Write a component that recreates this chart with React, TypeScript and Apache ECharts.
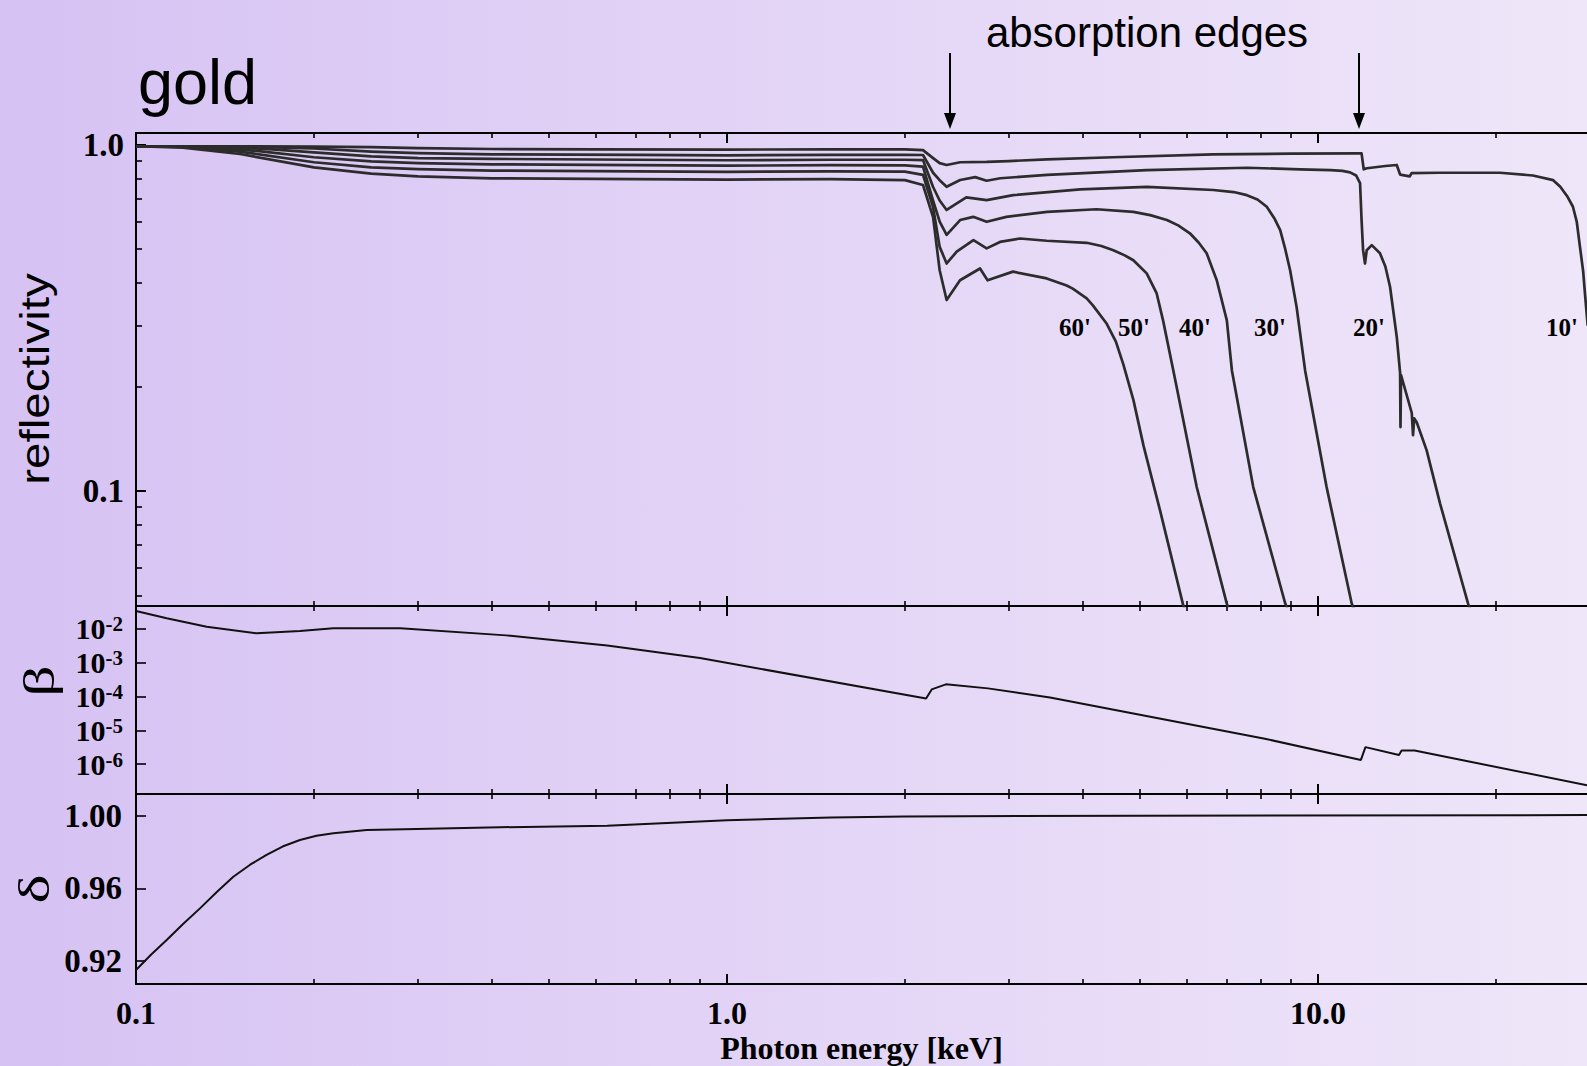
import React, { useEffect, useRef } from "react";
import * as echarts from "echarts";

// ---------- axes ----------
const X_MIN = 0.1;
const X_MAX = 28.52;
const xMajorTicks = [0.1, 1, 10];
const xTickLabels = ["0.1", "1.0", "10.0"];
const xMinorTicks = [0.2, 0.3, 0.4, 0.5, 0.6, 0.7, 0.8, 0.9, 2, 3, 4, 5, 6, 7, 8, 9, 20];

const R_MIN = 0.04656;
const R_MAX = 1.081;
const reflMajorTicks = [0.1, 1];
const reflTickLabels = ["0.1", "1.0"];
const reflMinorTicks = [0.05, 0.06, 0.07, 0.08, 0.09, 0.2, 0.3, 0.4, 0.5, 0.6, 0.7, 0.8, 0.9];

const B_MIN = 1.294e-7;
const B_MAX = 0.0479;
const betaTicks = [1e-6, 1e-5, 1e-4, 1e-3, 1e-2];

const D_MIN = 0.9074;
const D_MAX = 1.0119;
const deltaTicks = [0.92, 0.96, 1.0];
const deltaTickLabels = ["0.92", "0.96", "1.00"];

// ---------- reflectivity curves (energy keV, reflectivity) ----------
const angleNames = ["10'", "20'", "30'", "40'", "50'", "60'"];

const energy10 = [0.1, 0.15, 0.2, 0.25, 0.3, 0.4, 0.6, 1.0, 1.5, 2.0, 2.146, 2.232, 2.29, 2.353, 2.48, 2.75, 3.0, 3.48, 4.5, 6.64, 9.0, 11.78, 11.85, 11.95, 12.1, 13.0, 13.59, 13.77, 14.3, 14.4, 16.0, 20.3, 23.1, 25.0, 25.7, 26.4, 27.0, 27.4, 27.75, 28.1, 28.3, 28.6];
const refl10 = [0.99, 0.99, 0.988, 0.984, 0.978, 0.972, 0.97, 0.968, 0.97, 0.97, 0.965, 0.915, 0.885, 0.874, 0.89, 0.892, 0.897, 0.907, 0.92, 0.938, 0.942, 0.944, 0.944, 0.849, 0.855, 0.868, 0.874, 0.82, 0.81, 0.828, 0.83, 0.83, 0.815, 0.79, 0.756, 0.71, 0.662, 0.6, 0.507, 0.43, 0.37, 0.3];

const energy20 = [0.1, 0.15, 0.2, 0.25, 0.3, 0.4, 0.7, 1.0, 1.5, 2.0, 2.146, 2.232, 2.29, 2.353, 2.48, 2.63, 2.75, 2.9, 3.48, 5.13, 7.58, 9.32, 10.5, 11.0, 11.33, 11.6, 11.78, 11.85, 11.92, 12.01, 12.09, 12.33, 12.73, 13.0, 13.24, 13.59, 13.77, 13.79, 13.82, 14.41, 14.48, 14.55, 14.69, 15.27, 16.09, 17.94, 18.2];
const refl20 = [0.99, 0.988, 0.975, 0.955, 0.945, 0.938, 0.935, 0.932, 0.935, 0.935, 0.934, 0.83, 0.79, 0.756, 0.791, 0.806, 0.787, 0.8, 0.818, 0.845, 0.858, 0.849, 0.845, 0.84, 0.832, 0.815, 0.775, 0.606, 0.496, 0.454, 0.496, 0.513, 0.486, 0.445, 0.389, 0.279, 0.219, 0.153, 0.216, 0.168, 0.145, 0.162, 0.158, 0.131, 0.092, 0.0474, 0.044];

const energy30 = [0.1, 0.14, 0.17, 0.2, 0.25, 0.3, 0.4, 0.7, 1.0, 1.5, 2.0, 2.146, 2.232, 2.29, 2.353, 2.54, 2.75, 3.05, 3.96, 5.13, 6.65, 7.2, 7.58, 7.9, 8.19, 8.45, 8.63, 8.8, 8.97, 9.2, 9.51, 10.34, 11.4, 11.6];
const refl30 = [0.99, 0.985, 0.97, 0.95, 0.925, 0.915, 0.91, 0.905, 0.902, 0.905, 0.905, 0.903, 0.755, 0.69, 0.648, 0.705, 0.692, 0.715, 0.743, 0.756, 0.74, 0.73, 0.715, 0.695, 0.662, 0.61, 0.567, 0.5, 0.434, 0.34, 0.223, 0.1027, 0.0474, 0.044];

const energy40 = [0.1, 0.13, 0.16, 0.2, 0.25, 0.3, 0.4, 0.7, 1.0, 1.5, 2.0, 2.146, 2.232, 2.29, 2.353, 2.48, 2.61, 2.75, 2.97, 3.48, 4.22, 4.87, 5.2, 5.55, 5.8, 6.07, 6.28, 6.48, 6.74, 7.01, 7.15, 7.77, 8.8, 8.95];
const refl40 = [0.99, 0.985, 0.96, 0.92, 0.895, 0.885, 0.878, 0.873, 0.87, 0.873, 0.872, 0.864, 0.69, 0.6, 0.549, 0.606, 0.619, 0.599, 0.619, 0.64, 0.651, 0.64, 0.626, 0.606, 0.585, 0.555, 0.522, 0.486, 0.406, 0.311, 0.223, 0.1027, 0.0474, 0.044];

const energy50 = [0.1, 0.12, 0.15, 0.2, 0.25, 0.3, 0.4, 0.7, 1.0, 1.5, 2.0, 2.146, 2.232, 2.29, 2.353, 2.447, 2.612, 2.75, 2.897, 3.132, 3.475, 4.061, 4.3, 4.505, 4.7, 4.87, 5.13, 5.334, 5.47, 5.691, 6.234, 7.007, 7.1];
const refl50 = [0.99, 0.985, 0.955, 0.89, 0.86, 0.85, 0.842, 0.838, 0.835, 0.838, 0.836, 0.818, 0.66, 0.507, 0.454, 0.491, 0.53, 0.502, 0.524, 0.536, 0.528, 0.521, 0.51, 0.496, 0.48, 0.464, 0.425, 0.372, 0.31, 0.223, 0.1027, 0.0474, 0.044];

const energy60 = [0.1, 0.12, 0.15, 0.2, 0.25, 0.3, 0.4, 0.7, 1.0, 1.5, 2.0, 2.146, 2.232, 2.29, 2.353, 2.479, 2.68, 2.76, 3.047, 3.475, 3.756, 3.846, 4.061, 4.163, 4.391, 4.55, 4.684, 4.872, 5.068, 5.404, 5.918, 6.0];
const refl60 = [0.99, 0.98, 0.94, 0.86, 0.825, 0.81, 0.8, 0.795, 0.793, 0.795, 0.79, 0.765, 0.618, 0.434, 0.356, 0.406, 0.439, 0.406, 0.43, 0.411, 0.392, 0.384, 0.36, 0.343, 0.304, 0.27, 0.232, 0.183, 0.135, 0.0879, 0.0466, 0.044];

// ---------- beta (imaginary part) ----------
const betaEnergy = [0.1, 0.1127, 0.1317, 0.16, 0.1894, 0.2158, 0.28, 0.423, 0.627, 0.9, 2.172, 2.22, 2.346, 2.764, 3.52, 8.13, 11.82, 12.03, 13.71, 13.85, 14.57, 28.52];
const betaValues = [0.0341, 0.0207, 0.0117, 0.00745, 0.00873, 0.0105, 0.0105, 0.00646, 0.00324, 0.00138, 8.7e-5, 1.62e-4, 2.29e-4, 1.74e-4, 9.3e-5, 5.6e-6, 1.32e-6, 3.16e-6, 1.86e-6, 2.51e-6, 2.51e-6, 2.34e-7];

// ---------- delta (real part) ----------
const deltaEnergy = [0.1, 0.106, 0.1127, 0.12, 0.1283, 0.137, 0.1461, 0.156, 0.1663, 0.177, 0.1894, 0.202, 0.2158, 0.2457, 0.2985, 0.413, 0.627, 1.0, 1.5, 2.0, 5.0, 28.52];
const deltaValues = [0.9151, 0.9235, 0.9316, 0.9403, 0.949, 0.958, 0.9664, 0.973, 0.9784, 0.983, 0.9866, 0.9889, 0.9903, 0.9921, 0.9927, 0.9936, 0.9945, 0.9975, 0.999, 0.9995, 1.0, 1.0003];

// ---------- annotations ----------
const titleText = "gold";
const edgeText = "absorption edges";
const yNameRefl = "reflectivity";
const yNameBeta = "β";
const yNameDelta = "δ";
const xName = "Photon energy [keV]";

const SERIF = '"Liberation Serif", "Times New Roman", serif';
const SANS = '"Liberation Sans", Arial, Helvetica, sans-serif';
const INK = "#000";
const CURVE = "#2c2c2c";

function zip(a: number[], b: number[]) {
  return a.map((v, i) => [v, b[i]]);
}

function idxOfLog(list: number[], v: number) {
  let best = 0;
  let bd = Infinity;
  list.forEach((t, i) => {
    const d = Math.abs(Math.log10(t) - Math.log10(v));
    if (d < bd) { bd = d; best = i; }
  });
  return best;
}

function xAxesFor(grid: number, withLabels: boolean) {
  const base: any = {
    type: "log", logBase: 10, gridIndex: grid, min: X_MIN, max: X_MAX,
    splitLine: { show: false }, axisPointer: { show: false },
  };
  const major = (position: string, labels: boolean): any => ({
    ...base,
    position,
    axisLine: { show: true, onZero: false, lineStyle: { color: INK, width: 2 } },
    axisTick: { show: true, inside: true, length: 10, customValues: xMajorTicks, lineStyle: { color: INK, width: 2 } },
    axisLabel: labels
      ? {
          show: true, customValues: xMajorTicks, margin: 13, showMinLabel: true, showMaxLabel: true,
          formatter: (v: number) => xTickLabels[idxOfLog(xMajorTicks, v)],
          fontFamily: SERIF, fontWeight: "bold", fontSize: 32, color: INK,
        }
      : { show: false },
    ...(labels
      ? {
          name: xName, nameLocation: "middle", nameGap: 48,
          nameTextStyle: { fontFamily: SERIF, fontWeight: "bold", fontSize: 32, color: INK },
        }
      : {}),
  });
  const minor = (position: string): any => ({
    ...base,
    position,
    axisLine: { show: false },
    axisTick: { show: true, inside: true, length: 5, customValues: xMinorTicks, lineStyle: { color: INK, width: 1.6 } },
    axisLabel: { show: false },
  });
  return [major("bottom", withLabels), minor("bottom"), major("top", false), minor("top")];
}

function buildOption(): any {
  const grids = [
    { left: 136, top: 133, width: 1451, height: 473 },
    { left: 136, top: 606, width: 1451, height: 188 },
    { left: 136, top: 794, width: 1451, height: 190 },
  ];
  const xAxis = [...xAxesFor(0, false), ...xAxesFor(1, false), ...xAxesFor(2, true)];
  const labelBase = { fontFamily: SERIF, fontWeight: "bold", color: INK };
  const yAxis: any[] = [
    {
      type: "log", logBase: 10, gridIndex: 0, min: R_MIN, max: R_MAX, position: "left",
      splitLine: { show: false },
      axisLine: { show: true, onZero: false, lineStyle: { color: INK, width: 2 } },
      axisTick: { show: true, inside: true, length: 10, customValues: reflMajorTicks, lineStyle: { color: INK, width: 2 } },
      axisLabel: {
        ...labelBase, fontSize: 33, margin: 12, customValues: reflMajorTicks,
        showMinLabel: true, showMaxLabel: true,
        formatter: (v: number) => reflTickLabels[idxOfLog(reflMajorTicks, v)],
      },
    },
    {
      type: "log", logBase: 10, gridIndex: 0, min: R_MIN, max: R_MAX, position: "left",
      splitLine: { show: false },
      axisLine: { show: false },
      axisTick: { show: true, inside: true, length: 6, customValues: reflMinorTicks, lineStyle: { color: INK, width: 1.6 } },
      axisLabel: { show: false },
    },
    {
      type: "log", logBase: 10, gridIndex: 1, min: B_MIN, max: B_MAX, position: "left",
      splitLine: { show: false },
      axisLine: { show: true, onZero: false, lineStyle: { color: INK, width: 2 } },
      axisTick: { show: true, inside: true, length: 10, customValues: betaTicks, lineStyle: { color: INK, width: 1.6 } },
      axisLabel: {
        ...labelBase, margin: 13, customValues: betaTicks, interval: 0,
        showMinLabel: true, showMaxLabel: true, hideOverlap: false,
        formatter: (v: number) => `{b|10}{s|${Math.round(Math.log10(v))}}`,
        rich: {
          b: { ...labelBase, fontSize: 30, lineHeight: 30, verticalAlign: "bottom" },
          s: { ...labelBase, fontSize: 21, lineHeight: 16, verticalAlign: "top" },
        },
      },
    },
    {
      type: "value", gridIndex: 2, min: D_MIN, max: D_MAX, position: "left",
      splitLine: { show: false },
      axisLine: { show: true, onZero: false, lineStyle: { color: INK, width: 2 } },
      axisTick: { show: true, inside: true, length: 10, customValues: deltaTicks, lineStyle: { color: INK, width: 1.6 } },
      axisLabel: {
        ...labelBase, fontSize: 33, margin: 14, customValues: deltaTicks,
        showMinLabel: true, showMaxLabel: true,
        formatter: (v: number) => deltaTickLabels[deltaTicks.findIndex((t) => Math.abs(t - v) < 1e-6)] ?? v.toFixed(2),
      },
    },
  ];

  const reflSets = [
    [energy10, refl10], [energy20, refl20], [energy30, refl30],
    [energy40, refl40], [energy50, refl50], [energy60, refl60],
  ];
  const series: any[] = reflSets.map(([e, r], i) => ({
    type: "line", name: angleNames[i], xAxisIndex: 0, yAxisIndex: 0,
    data: zip(e, r), showSymbol: false, symbol: "none",
    lineStyle: { color: CURVE, width: 2.7, join: "round" }, clip: true, z: 3,
  }));
  series.push({
    type: "line", name: "beta", xAxisIndex: 4, yAxisIndex: 2,
    data: zip(betaEnergy, betaValues), showSymbol: false, symbol: "none",
    lineStyle: { color: "#111", width: 2 }, clip: true,
  });
  series.push({
    type: "line", name: "delta", xAxisIndex: 8, yAxisIndex: 3,
    data: zip(deltaEnergy, deltaValues), showSymbol: false, symbol: "none",
    lineStyle: { color: "#111", width: 2 }, clip: true,
  });

  const angleLabelPos = [
    [1562, 327], [1369, 327], [1270, 327], [1195, 327], [1134, 327], [1075, 327],
  ];
  const arrowXs = [950, 1359];

  const graphic: any[] = [
    {
      type: "text", x: 138, y: 82,
      style: { text: titleText, fontFamily: SANS, fontSize: 63, fill: INK, align: "left", verticalAlign: "middle" },
    },
    {
      type: "text", x: 1147, y: 32,
      style: { text: edgeText, fontFamily: SANS, fontSize: 42, fill: INK, align: "center", verticalAlign: "middle" },
    },
    {
      type: "text", x: 35, y: 379, rotation: Math.PI / 2, scaleX: 1.19,
      style: { text: yNameRefl, fontFamily: SANS, fontSize: 40, fill: INK, align: "center", verticalAlign: "middle" },
    },
    {
      type: "text", x: 39, y: 681, rotation: Math.PI / 2, scaleX: 1.4,
      style: { text: yNameBeta, fontFamily: SERIF, fontSize: 44, fill: INK, align: "center", verticalAlign: "middle" },
    },
    {
      type: "text", x: 34, y: 889, rotation: Math.PI / 2, scaleX: 1.4,
      style: { text: yNameDelta, fontFamily: SERIF, fontSize: 44, fill: INK, align: "center", verticalAlign: "middle" },
    },
  ];
  angleNames.forEach((name, i) => {
    graphic.push({
      type: "text", x: angleLabelPos[i][0], y: angleLabelPos[i][1],
      style: { text: name, fontFamily: SERIF, fontWeight: "bold", fontSize: 25, fill: INK, align: "center", verticalAlign: "middle" },
      z: 10,
    });
  });
  arrowXs.forEach((ax) => {
    graphic.push({
      type: "line", shape: { x1: ax, y1: 53, x2: ax, y2: 116 },
      style: { stroke: INK, lineWidth: 2 },
    });
    graphic.push({
      type: "polygon", shape: { points: [[ax - 6, 113], [ax + 6, 113], [ax, 129]] },
      style: { fill: INK },
    });
  });

  return {
    animation: false,
    backgroundColor: "transparent",
    grid: grids,
    xAxis,
    yAxis,
    series,
    graphic,
  };
}

export default function App() {
  const ref = useRef<HTMLDivElement>(null);
  useEffect(() => {
    if (!ref.current) return;
    const chart = echarts.init(ref.current, null, { renderer: "svg" });
    chart.setOption(buildOption());
    return () => chart.dispose();
  }, []);
  return (
    <div
      ref={ref}
      style={{
        position: "absolute",
        left: 0,
        top: 0,
        width: 1587,
        height: 1066,
        overflow: "hidden",
        background: "linear-gradient(90deg, #d6c2f3 0%, #e2d3f6 45%, #efe6f9 100%)",
      }}
    />
  );
}
